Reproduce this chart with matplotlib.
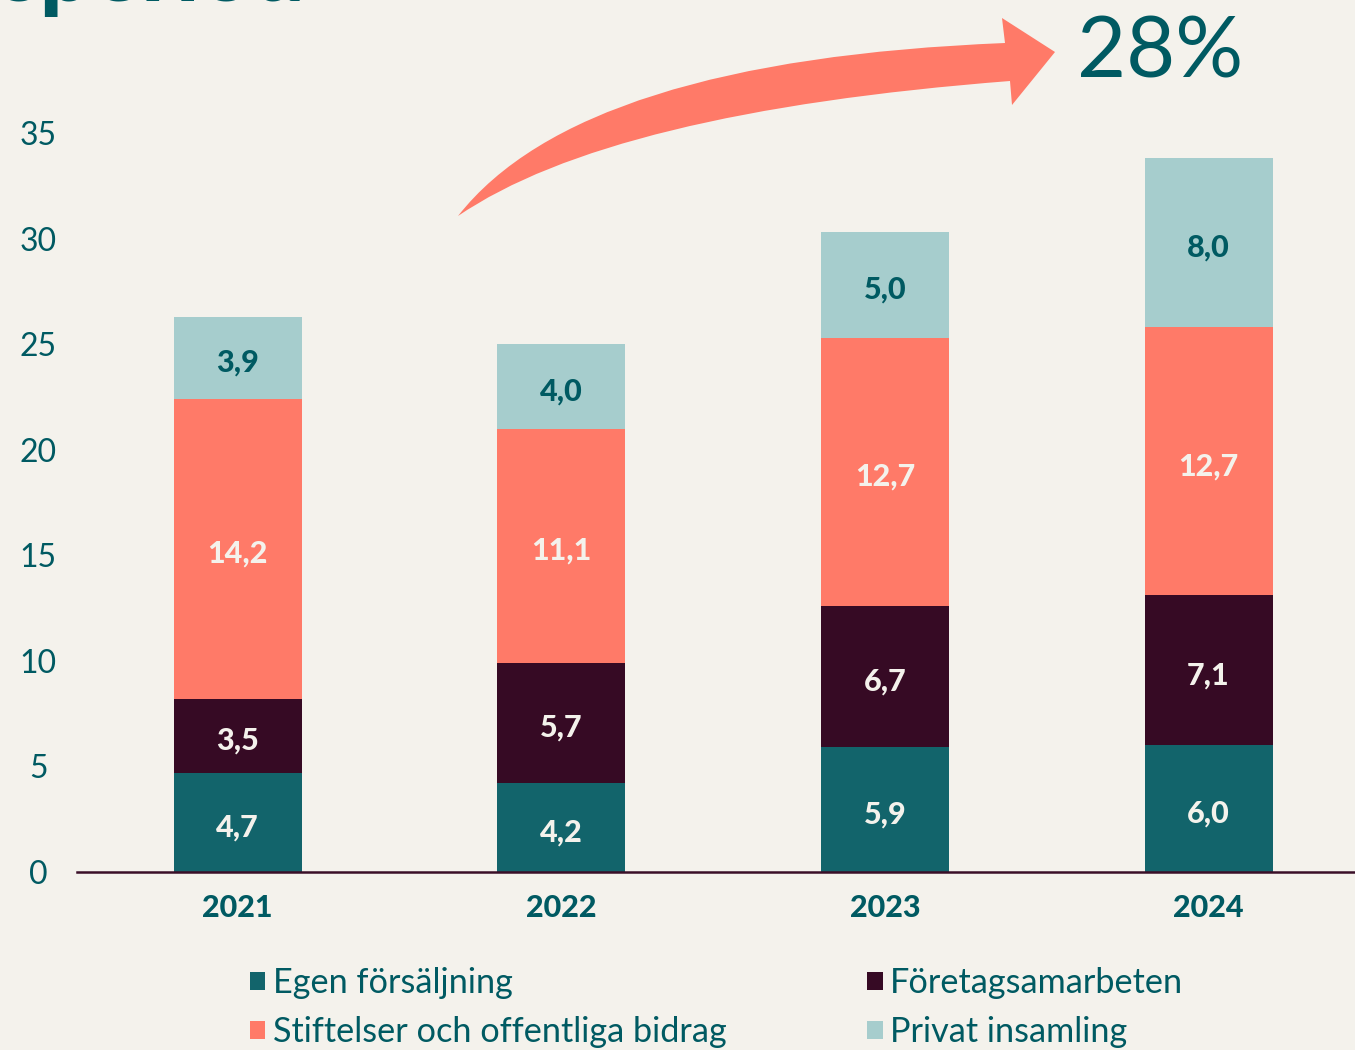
import matplotlib
matplotlib.use("Agg")
import matplotlib.pyplot as plt
from matplotlib.path import Path
from matplotlib.patches import PathPatch
import numpy as np

plt.rcParams['font.family'] = ['Lato', 'DejaVu Sans']

# ---- data ----
years = ["2021", "2022", "2023", "2024"]
series_names = ["Egen försäljning", "Företagsamarbeten",
                "Stiftelser och offentliga bidrag", "Privat insamling"]
egen = [4.7, 4.2, 5.9, 6.0]
foretag = [3.5, 5.7, 6.7, 7.1]
stiftelser = [14.2, 11.1, 12.7, 12.7]
privat = [3.9, 4.0, 5.0, 8.0]
y_ticks = [0, 5, 10, 15, 20, 25, 30, 35]
growth_label = "28%"
title_fragment = "speriod"

# ---- style ----
BG = "#F4F2EC"
TEAL_TXT = "#005A62"
colors = ["#12646B", "#360A24", "#FF7A68", "#A6CDCD"]
label_colors = ["#F4F2EC", "#F4F2EC", "#F4F2EC", "#005A62"]

W, H = 1355, 1050
fig = plt.figure(figsize=(W / 100, H / 100), dpi=100, facecolor=BG)

ax_left, ax_right = 77, 1355
ax_bottom, ax_top = 872, 100
ax = fig.add_axes([ax_left / W, 1 - ax_bottom / H,
                   (ax_right - ax_left) / W, (ax_bottom - ax_top) / H])
ax.set_facecolor(BG)

px_per_unit = (872 - 133) / 35.0
ax.set_ylim(0, (ax_bottom - ax_top) / px_per_unit)
spacing = (1208.5 - 237.5) / 3
ax.set_xlim((ax_left - 237.5) / spacing, (ax_right - 237.5) / spacing)

x = np.arange(len(years))
bar_w = 128 / spacing
bottom = np.zeros(len(years))
for vals, col, lc, name in zip([egen, foretag, stiftelser, privat], colors,
                               label_colors, series_names):
    vals = np.array(vals)
    ax.bar(x, vals, bar_w, bottom=bottom, color=col, label=name,
           linewidth=0, zorder=2)
    for xi, b, v in zip(x, bottom, vals):
        ax.annotate(f"{v:.1f}".replace(".", ","), (xi, b + v / 2),
                    xytext=(0, -3.5), textcoords="offset points",
                    ha="center", va="center", color=lc,
                    fontsize=22, fontweight="black", zorder=4)
    bottom += vals

# axes styling
for s in ["top", "right", "left"]:
    ax.spines[s].set_visible(False)
ax.spines["bottom"].set_color("#3A0F28")
ax.spines["bottom"].set_linewidth(1.8)
ax.spines["bottom"].set_zorder(3)

ax.set_yticks(y_ticks)
ax.set_yticklabels([str(t) for t in y_ticks], fontsize=23, color=TEAL_TXT)
for lab in ax.get_yticklabels():
    lab.set_ha("center")
ax.tick_params(axis="y", length=0, pad=28)

ax.set_xticks(x)
ax.set_xticklabels(years, fontsize=22, fontweight="black", color=TEAL_TXT)
ax.tick_params(axis="x", length=0, pad=16)

# legend
handles, lbls = ax.get_legend_handles_labels()
order = [0, 2, 1, 3]
leg = fig.legend([handles[i] for i in order], [lbls[i] for i in order],
                 loc="upper left", bbox_to_anchor=(250 / W, 1 - 967 / H),
                 ncol=2, frameon=False, fontsize=24.7,
                 handlelength=0.45, handleheight=0.45, handletextpad=0.22,
                 columnspacing=4.1, labelspacing=0.5, borderpad=0,
                 borderaxespad=0)
for t in leg.get_texts():
    t.set_color(TEAL_TXT)

# curved arrow (decoration, in pixel coordinates of the figure)
def P(px, py):
    return (px / W, 1 - py / H)

verts = [P(458, 216), P(580, 60), P(1005, 43),
         P(1002, 18), P(1055, 52), P(1012, 105), P(1010, 81),
         P(610, 112), P(458, 216), P(458, 216)]
codes = [Path.MOVETO, Path.CURVE3, Path.CURVE3,
         Path.LINETO, Path.LINETO, Path.LINETO, Path.LINETO,
         Path.CURVE3, Path.CURVE3, Path.CLOSEPOLY]
arrow = PathPatch(Path(verts, codes), facecolor="#FF7A68", edgecolor="none",
                  transform=fig.transFigure)
fig.patches.append(arrow)

fig.text(1160 / W, 1 - 78 / H, growth_label, ha="center", va="baseline",
         fontsize=61, color=TEAL_TXT)

# cut-off title fragment at the top
fig.text(305 / W, 1 - 1 / H, title_fragment, ha="right", va="baseline",
         fontsize=66, fontweight="black", color=TEAL_TXT)

fig.savefig("out.png", dpi=100, facecolor=BG)
